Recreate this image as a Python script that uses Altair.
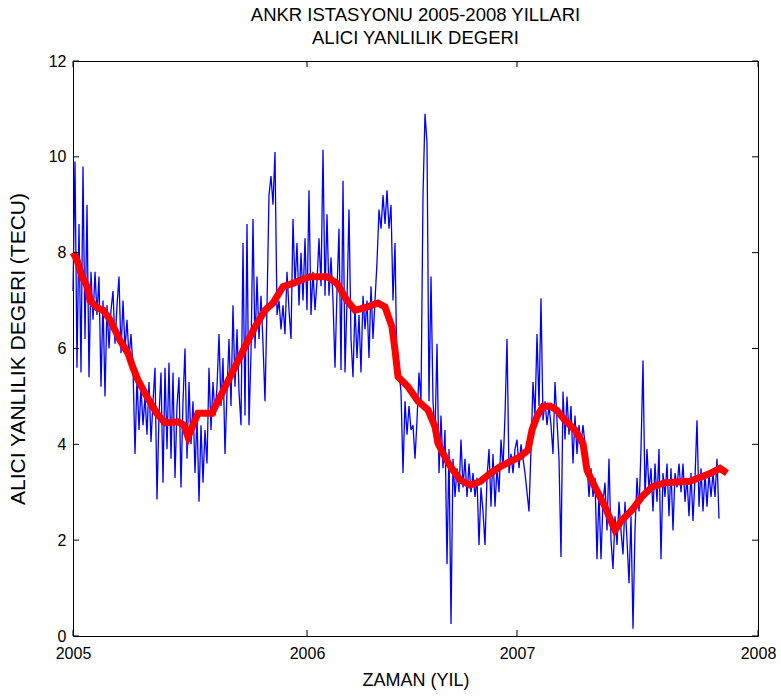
import altair as alt
import pandas as pd

# ---- data ----
# Blue series: receiver bias (TECU), one sample per index step
blue_v = [
    7.2, 9.9, 5.6, 8.6, 5.5, 9.8, 6.2, 9.0, 5.4, 7.6,
    6.6, 7.6, 6.7, 7.5, 5.2, 7.0, 5.0, 6.9, 6.0, 6.8,
    7.2, 6.1, 6.9, 7.5, 5.9, 7.0, 6.0, 6.6, 5.8, 6.3,
    5.6, 3.8, 5.4, 4.3, 5.2, 4.4, 5.0, 4.2, 5.3, 4.05,
    4.9, 5.6, 2.85, 4.6, 5.5, 3.2, 5.6, 3.9, 5.7, 3.7,
    5.5, 3.3, 4.8, 5.4, 3.1, 4.9, 6.0, 3.7, 5.3, 4.0,
    4.9, 3.4, 4.6, 2.8, 4.4, 3.2, 4.3, 3.6, 5.6, 4.3,
    5.3, 4.6, 5.2, 6.3, 4.8, 5.8, 3.8, 5.1, 6.2, 4.8,
    6.9, 5.2, 6.4, 5.1, 4.4, 8.2, 4.6, 8.6, 4.4, 5.9,
    8.7, 6.0, 7.5, 6.2, 7.1, 6.1, 4.9, 6.9, 9.2, 9.6,
    9.0, 10.1, 6.7, 7.0, 6.4, 6.9, 6.3, 7.6, 6.8, 6.2,
    8.7, 7.3, 8.2, 6.9, 8.0, 7.0, 8.3, 6.8, 9.3, 6.7,
    7.6, 6.8, 7.4, 8.3, 7.3, 10.15, 7.1, 8.8, 7.1, 7.9,
    7.0, 5.6, 7.2, 8.5, 5.55, 9.5, 5.5, 7.0, 8.9, 6.2,
    5.4, 6.9, 5.8, 6.7, 5.5, 7.1, 6.4, 7.0, 5.8, 7.3,
    6.2, 7.0, 7.8, 8.9, 8.5, 9.2, 8.6, 9.3, 8.5, 9.0,
    7.0, 8.2, 5.4, 5.5, 5.1, 3.4, 4.9, 4.2, 4.8, 4.3,
    4.4, 3.7, 4.5, 5.5, 4.9, 9.2, 10.9, 10.3, 4.9, 7.5,
    4.9, 4.2, 6.1, 3.4, 4.6, 3.5, 4.3, 1.5, 3.9, 0.25,
    3.7, 2.9, 3.5, 3.0, 4.1, 3.1, 3.7, 2.9, 3.6, 3.0,
    3.4, 2.9, 3.3, 1.9, 3.1, 2.6, 1.9, 3.3, 3.9, 2.7,
    3.8, 2.7, 3.5, 3.0, 4.1, 3.5, 4.6, 6.2, 3.4, 3.8,
    3.4, 3.9, 4.1, 3.5, 4.0, 3.7, 3.4, 3.0, 2.6, 3.9,
    5.3, 4.6, 6.3, 4.8, 7.05, 4.5, 4.9, 4.4, 4.8, 4.4,
    3.8, 5.3, 4.5, 3.7, 1.65, 5.1, 4.1, 5.0, 4.2, 4.8,
    3.6, 4.6, 3.8, 4.4, 4.0, 4.4, 4.0, 3.6, 2.9, 3.5,
    2.9, 3.3, 1.6, 3.0, 1.6, 2.8, 3.2, 2.2, 3.7, 2.0,
    1.4, 2.5, 1.9, 2.8, 2.2, 1.7, 2.8, 2.0, 1.1, 2.5,
    0.15, 2.2, 3.3, 2.6, 3.9, 5.75, 2.9, 3.9, 3.05, 3.5,
    2.6, 3.6, 2.8, 3.9, 1.6, 3.4, 2.9, 3.6, 2.5, 3.5,
    2.2, 3.4, 3.1, 3.6, 3.0, 3.6, 2.8, 3.3, 2.5, 3.4,
    2.4, 3.3, 4.5, 2.7, 3.5, 2.6, 3.4, 2.7, 3.4, 2.9,
    3.4, 2.9, 3.7, 2.45,
]

# Red smoothed curve: sample index and value
red_t = [0, 2, 4.5, 7, 8.5, 12, 15, 18.5, 23.5, 27.5, 30, 32.5, 37, 42, 46,
         52.5, 55.5, 57.5, 59.5, 62.5, 69.5, 74.5, 79.5, 86, 91, 96, 100, 105,
         110, 118.5, 127, 132, 137, 141, 146, 152.5, 156, 159.5, 161, 162.5,
         167.5, 172.5, 177.5, 181, 182.5, 185, 188.5, 193.5, 198.5, 203.5,
         208.5, 213.5, 218.5, 223.5, 227.5, 229.5, 232, 235, 238.5, 242, 246,
         251, 255, 257, 261, 266, 269.5, 271, 274.5, 279.5, 284.5, 289.5, 296,
         308.5, 318.5, 323.5, 327]
red_v = [8.0, 7.85, 7.5, 7.3, 7.0, 6.85, 6.8, 6.6, 6.17, 5.9, 5.6, 5.34, 4.99,
         4.64, 4.45, 4.47, 4.4, 4.15, 4.35, 4.65, 4.65, 5.07, 5.49, 6.04, 6.45,
         6.8, 6.95, 7.29, 7.36, 7.5, 7.5, 7.36, 7.0, 6.8, 6.85, 6.95, 6.87,
         6.45, 5.97, 5.41, 5.2, 4.9, 4.72, 4.37, 4.02, 3.81, 3.55, 3.26, 3.15,
         3.22, 3.39, 3.53, 3.64, 3.74, 3.88, 4.3, 4.58, 4.79, 4.8, 4.71, 4.5,
         4.3, 4.02, 3.46, 3.11, 2.7, 2.35, 2.21, 2.42, 2.63, 2.91, 3.11, 3.2,
         3.23, 3.39, 3.5, 3.4]

x_tick_vals = [0, 117, 222, 342.5]
x_tick_labels = ["2005", "2006", "2007", "2008"]
y_tick_vals = [0, 2, 4, 6, 8, 10, 12]

# ---- layout ----
W, H = 685, 575
FONT = "Liberation Sans"
TL = 6  # inward tick length

blue_df = pd.DataFrame({"t": list(range(len(blue_v))), "v": blue_v})
red_df = pd.DataFrame({"t": red_t, "v": red_v})
xt_df = pd.DataFrame({"t": x_tick_vals})
yt_df = pd.DataFrame({"v": y_tick_vals})

label_expr = " : ".join(
    f"datum.value == {v} ? '{l}'" for v, l in zip(x_tick_vals, x_tick_labels)
) + " : ''"

xscale = alt.Scale(domain=[0, 342.5], nice=False, zero=False)
yscale = alt.Scale(domain=[0, 12], nice=False, zero=True)

x_axis = alt.Axis(
    values=x_tick_vals, labelExpr=label_expr, ticks=False, domain=False,
    grid=False, labelFont=FONT, labelFontSize=16, labelColor="black",
    labelPadding=9, labelFlush=False, labelOverlap=False,
    title="ZAMAN (YIL)", titleFont=FONT, titleFontSize=18,
    titleFontWeight="normal", titleColor="black",
    titleX=W / 2, titleY=44, titleBaseline="middle", titleAlign="center",
)
y_axis = alt.Axis(
    values=y_tick_vals, ticks=False, domain=False, grid=False,
    labelFont=FONT, labelFontSize=16, labelColor="black", labelPadding=7,
    labelOverlap=False, labelFlush=False,
    title="ALICI YANLILIK DEGERI (TECU)", titleFont=FONT, titleFontSize=21,
    titleFontWeight="normal", titleColor="black", titleAngle=-90,
    titleX=-55, titleY=H / 2, titleBaseline="middle", titleAlign="center",
)

blue = alt.Chart(blue_df).mark_line(color="#0000ff", strokeWidth=1.3).encode(
    x=alt.X("t:Q", scale=xscale, axis=x_axis),
    y=alt.Y("v:Q", scale=yscale, axis=y_axis),
)
red = alt.Chart(red_df).mark_line(color="#ff0000", strokeWidth=7).encode(
    x=alt.X("t:Q", scale=xscale),
    y=alt.Y("v:Q", scale=yscale),
)

tick_left = alt.Chart(yt_df).mark_rule(color="black").encode(
    y=alt.Y("v:Q", scale=yscale), x=alt.value(0), x2=alt.value(TL))
tick_right = alt.Chart(yt_df).mark_rule(color="black").encode(
    y=alt.Y("v:Q", scale=yscale), x=alt.value(W - TL), x2=alt.value(W))
tick_bottom = alt.Chart(xt_df).mark_rule(color="black").encode(
    x=alt.X("t:Q", scale=xscale), y=alt.value(H - TL), y2=alt.value(H))
tick_top = alt.Chart(xt_df).mark_rule(color="black").encode(
    x=alt.X("t:Q", scale=xscale), y=alt.value(0), y2=alt.value(TL))

chart = alt.layer(blue, red, tick_left, tick_right, tick_bottom, tick_top).properties(
    width=W,
    height=H,
    autosize=alt.AutoSizeParams(type="none"),
    padding={"left": 73, "top": 61, "right": 23, "bottom": 61},
    background="white",
    title=alt.TitleParams(
        text=["ANKR ISTASYONU 2005-2008 YILLARI", "ALICI YANLILIK DEGERI"],
        font=FONT, fontSize=18.5, fontWeight="normal", color="black",
        anchor="middle", offset=6, lineHeight=23,
    ),
).configure_view(stroke="black", strokeWidth=1)

chart.save("out.html", embed_options={"renderer": "svg", "actions": False})
